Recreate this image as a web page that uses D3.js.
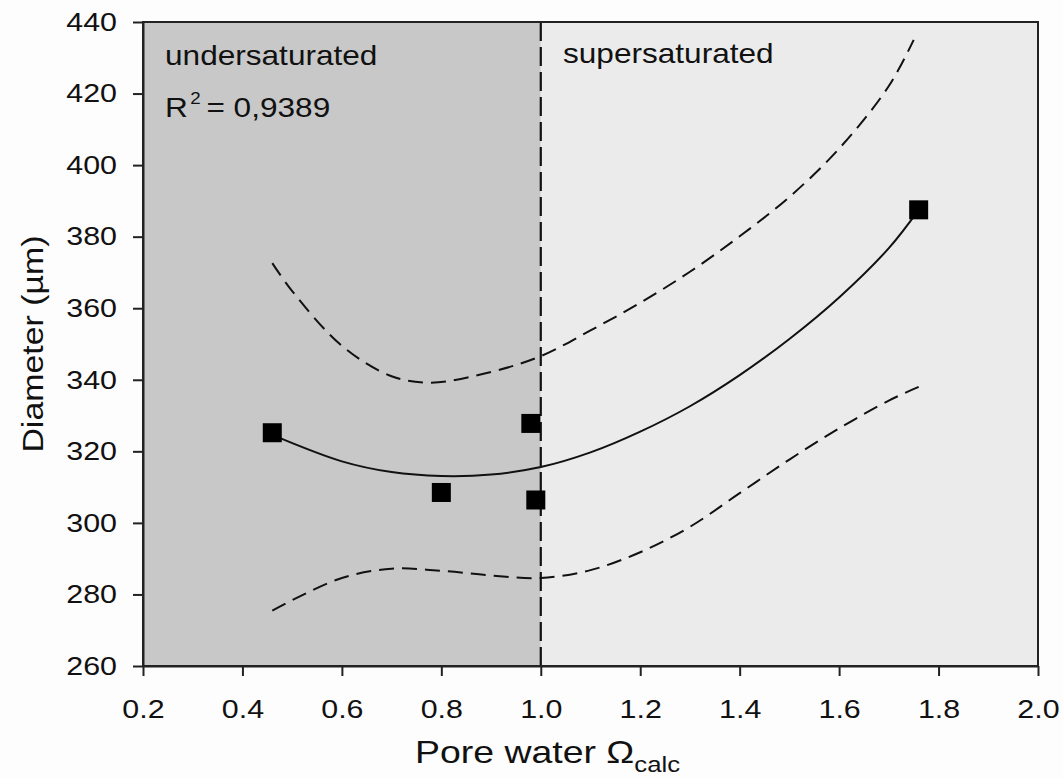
<!DOCTYPE html>
<html>
<head>
<meta charset="utf-8">
<script src="https://cdn.jsdelivr.net/npm/d3@7.9.0/dist/d3.min.js"></script>
<style>
  body { margin: 0; background: #fdfdfd; }
  svg { display: block; font-family: "Liberation Sans", Arial, sans-serif; }
</style>
</head>
<body>
<svg id="chart" width="1063" height="778"></svg>
<script>
// Measured data points (Omega_calc, diameter)
const omega = [0.46, 0.80, 0.98, 0.99, 1.76];
const diameter = [325.2, 308.5, 327.8, 306.4, 387.5];

// Regression line
const fitX = [0.46, 0.6, 0.7, 0.8, 0.9, 1.0, 1.1, 1.2, 1.3, 1.4, 1.5, 1.6, 1.7, 1.76];
const fitY = [324.6, 317.2, 314.2, 313.1, 313.5, 315.6, 319.7, 325.5, 332.6, 341.3, 351.4, 363.0, 376.8, 387.5];

// Upper confidence band
const upX = [0.46, 0.5, 0.6, 0.7, 0.78, 0.9, 1.0, 1.1, 1.2, 1.3, 1.4, 1.5, 1.6, 1.7, 1.75];
const upY = [372.6, 364.8, 349.5, 341.0, 339.2, 342.2, 346.6, 353.8, 361.5, 370.2, 380.1, 391.1, 404.6, 422.1, 435.0];

// Lower confidence band
const loX = [0.46, 0.5, 0.6, 0.7, 0.8, 0.9, 1.0, 1.1, 1.2, 1.3, 1.4, 1.5, 1.6, 1.7, 1.76];
const loY = [275.5, 278.4, 284.6, 287.2, 286.6, 285.3, 284.6, 286.8, 291.8, 298.9, 308.3, 317.7, 326.4, 334.2, 338.0];

// Axis ticks
const xTicks = [0.2, 0.4, 0.6, 0.8, 1.0, 1.2, 1.4, 1.6, 1.8, 2.0];
const yTicks = [260, 280, 300, 320, 340, 360, 380, 400, 420, 440];

const margin = { left: 143, top: 22, right: 25, bottom: 112 };
const width = 1063 - margin.left - margin.right;
const height = 778 - margin.top - margin.bottom;
const stretch = 1.17; // reference lettering is a bit wide

const svg = d3.select('#chart');
const g = svg.append('g').attr('transform', `translate(${margin.left},${margin.top})`);

const x = d3.scaleLinear().domain([0.2, 2.0]).range([0, width]);
const y = d3.scaleLinear().domain([260, 440]).range([height, 0]);

// Shaded regions
g.append('rect')
  .attr('x', x(0.2)).attr('y', 0)
  .attr('width', x(1.0) - x(0.2)).attr('height', height)
  .attr('fill', '#c8c8c8');
g.append('rect')
  .attr('x', x(1.0)).attr('y', 0)
  .attr('width', x(2.0) - x(1.0)).attr('height', height)
  .attr('fill', '#ebebeb');

// Saturation boundary
g.append('line')
  .attr('x1', x(1.0)).attr('x2', x(1.0))
  .attr('y1', 0).attr('y2', height)
  .attr('stroke', '#111').attr('stroke-width', 2.2)
  .attr('stroke-dasharray', '19,6');

const line = d3.line()
  .x(d => x(d[0]))
  .y(d => y(d[1]))
  .curve(d3.curveCatmullRom);

// Confidence bands
[[upX, upY], [loX, loY]].forEach(([xs, ys]) => {
  g.append('path')
    .datum(xs.map((v, i) => [v, ys[i]]))
    .attr('d', line)
    .attr('fill', 'none')
    .attr('stroke', '#111')
    .attr('stroke-width', 2)
    .attr('stroke-dasharray', '15,8');
});

// Fit line
g.append('path')
  .datum(fitX.map((v, i) => [v, fitY[i]]))
  .attr('d', line)
  .attr('fill', 'none')
  .attr('stroke', '#111')
  .attr('stroke-width', 2);

// Points
const sq = 19;
g.selectAll('rect.pt')
  .data(omega.map((v, i) => [v, diameter[i]]))
  .enter()
  .append('rect')
  .attr('class', 'pt')
  .attr('x', d => x(d[0]) - sq / 2)
  .attr('y', d => y(d[1]) - sq / 2)
  .attr('width', sq).attr('height', sq)
  .attr('fill', '#000');

// Frame
g.append('rect')
  .attr('x', 0).attr('y', 0)
  .attr('width', width).attr('height', height)
  .attr('fill', 'none')
  .attr('stroke', '#222').attr('stroke-width', 2);

// Axes
const xAxis = g.append('g')
  .attr('transform', `translate(0,${height})`)
  .call(d3.axisBottom(x).tickValues(xTicks).tickFormat(d3.format('.1f'))
    .tickSize(10).tickSizeOuter(0).tickPadding(24));
const yAxis = g.append('g')
  .call(d3.axisLeft(y).tickValues(yTicks)
    .tickSize(10).tickSizeOuter(0).tickPadding(16));

[xAxis, yAxis].forEach(ax => {
  ax.select('.domain').attr('stroke', '#222').attr('stroke-width', 2);
  ax.selectAll('.tick line').attr('stroke', '#222').attr('stroke-width', 2);
  ax.selectAll('.tick text')
    .attr('fill', '#111')
    .style('font-size', '26px')
    .style('font-family', '"Liberation Sans", Arial, sans-serif');
});
xAxis.selectAll('.tick text').attr('transform', `scale(${stretch},1)`);
yAxis.selectAll('.tick text')
  .attr('x', 0)
  .attr('transform', `translate(-26,0) scale(${stretch},1)`);

// Region labels
function label(px, py, txt) {
  return svg.append('text')
    .attr('transform', `translate(${px},${py}) scale(${stretch},1)`)
    .attr('font-size', 27).attr('fill', '#111')
    .text(txt);
}
label(165, 65, 'undersaturated');
label(563, 63, 'supersaturated');

const r2 = svg.append('text')
  .attr('transform', `translate(165,117) scale(${stretch},1)`)
  .attr('font-size', 27).attr('fill', '#111');
r2.append('tspan').text('R');
r2.append('tspan').attr('dy', -13).attr('dx', 2).attr('font-size', 16).text('2');
r2.append('tspan').attr('dy', 13).attr('dx', 5).text('= 0,9389');

// Axis titles
const xt = svg.append('text')
  .attr('transform', `translate(415,763) scale(${stretch},1)`)
  .attr('font-size', 32).attr('fill', '#111');
xt.append('tspan').text('Pore water Ω');
xt.append('tspan').attr('dy', 9).attr('font-size', 22).text('calc');

svg.append('text')
  .attr('transform', `translate(43,${margin.top + height / 2}) rotate(-90) scale(1.13,1)`)
  .attr('text-anchor', 'middle')
  .attr('font-size', 30).attr('fill', '#111')
  .text('Diameter (µm)');
</script>
</body>
</html>
